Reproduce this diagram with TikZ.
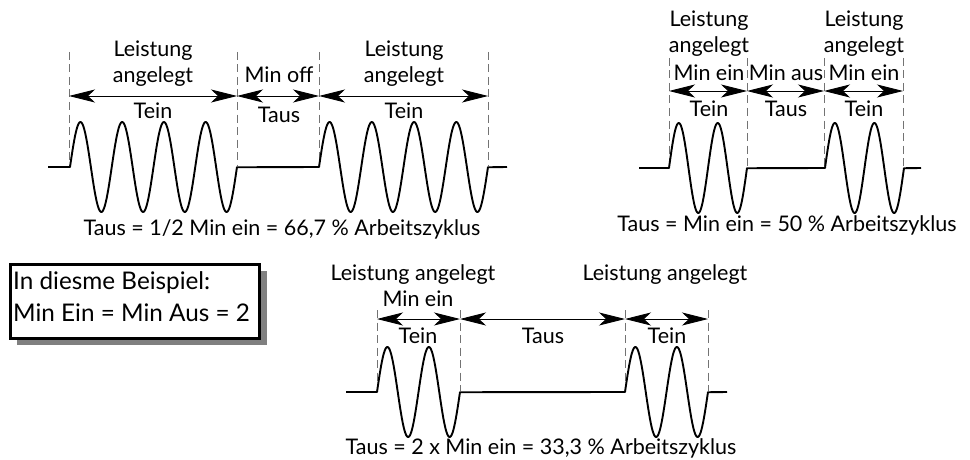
\documentclass[tikz,border=0pt]{standalone}
\usepackage{fontspec}
\setmainfont{Lato}
\usetikzlibrary{arrows.meta}
\begin{document}
\begin{tikzpicture}[x=1pt,y=-1pt,
  lbl/.style={font=\fontsize{21.5}{24}\selectfont, inner sep=0pt, anchor=base},
  boxtxt/.style={font=\fontsize{24.3}{26}\selectfont, inner sep=0pt, anchor=base west},
  dim/.style={{Stealth[length=26pt,width=13pt,inset=7pt]}-{Stealth[length=26pt,width=13pt,inset=7pt]}, line width=0.9pt},
  guide/.style={dash pattern=on 8pt off 4.5pt, draw=gray!90!black, line width=0.9pt},
  wave/.style={line width=1.9pt, line join=round}]
\useasboundingbox (0,0) rectangle (970,460);

% ---------------- Panel 1 ----------------
\foreach \n/\x in {a/69,b/237,c/319,d/488}{
  \coordinate (p1\n t) at (\x,52);
  \coordinate (p1\n b) at (\x,166);
  \coordinate (p1\n m) at (\x,96);
  \draw[guide] (p1\n t) -- (p1\n b);
}
\draw[wave] (48,167) -- (70,167)
  -- plot[domain=0:4,samples=200] ({70+41.75*\x},{167-45*sin(360*\x)})
  -- (319,167)
  -- plot[domain=0:4,samples=200] ({319+42.25*\x},{167-45*sin(360*\x)})
  -- (507,167);
\draw[dim] (p1am) -- (p1bm);
\draw[dim] (p1bm) -- (p1cm);
\draw[dim] (p1cm) -- (p1dm);
\node[lbl] (t1a) at (153,57) {Leistung};
\node[lbl] (t1b) at (153,82) {angelegt};
\node[lbl] (t1c) at (153,118) {Tein};
\node[lbl] (t1d) at (279,82) {Min off};
\node[lbl] (t1e) at (279,122) {Taus};
\node[lbl] (t1f) at (404,57) {Leistung};
\node[lbl] (t1g) at (404,82) {angelegt};
\node[lbl] (t1h) at (404,118) {Tein};
\node[lbl] (t1i) at (282,235) {Taus = 1/2 Min ein = 66,7 \% Arbeitszyklus};

% ---------------- Panel 2 ----------------
\foreach \n/\x in {a/669,b/747,c/824,d/903}{
  \coordinate (p2\n t) at (\x,58);
  \coordinate (p2\n b) at (\x,166);
  \coordinate (p2\n m) at (\x,91);
  \draw[guide] (p2\n t) -- (p2\n b);
}
\draw[wave] (639,168) -- (669,168)
  -- plot[domain=0:2,samples=120] ({669+39*\x},{168-45*sin(360*\x)})
  -- (825,168)
  -- plot[domain=0:2,samples=120] ({825+39.5*\x},{168-45*sin(360*\x)})
  -- (921,168);
\draw[dim] (p2am) -- (p2bm);
\draw[dim] (p2bm) -- (p2cm);
\draw[dim] (p2cm) -- (p2dm);
\node[lbl] (t2a) at (709,27) {Leistung};
\node[lbl] (t2b) at (709,53) {angelegt};
\node[lbl] (t2c) at (709,81) {Min ein};
\node[lbl] (t2d) at (709,117) {Tein};
\node[lbl] (t2e) at (786,81) {Min aus};
\node[lbl] (t2f) at (786,117) {Taus};
\node[lbl] (t2g) at (864,27) {Leistung};
\node[lbl] (t2h) at (864,53) {angelegt};
\node[lbl] (t2i) at (864,81) {Min ein};
\node[lbl] (t2j) at (864,117) {Tein};
\node[lbl] (t2k) at (787,231) {Taus = Min ein = 50 \% Arbeitszyklus};

% ---------------- Panel 3 ----------------
\foreach \n/\x in {a/377,b/460,c/625,d/708}{
  \coordinate (p3\n t) at (\x,310);
  \coordinate (p3\n b) at (\x,391);
  \coordinate (p3\n m) at (\x,319);
  \draw[guide] (p3\n t) -- (p3\n b);
}
\draw[wave] (346,392) -- (377,392)
  -- plot[domain=0:2,samples=120] ({377+41.5*\x},{392-45*sin(360*\x)})
  -- (625,392)
  -- plot[domain=0:2,samples=120] ({625+41.5*\x},{392-45*sin(360*\x)})
  -- (727,392);
\draw[dim] (p3am) -- (p3bm);
\draw[dim] (p3bm) -- (p3cm);
\draw[dim] (p3cm) -- (p3dm);
\node[lbl] (t3a) at (413,280) {Leistung angelegt};
\node[lbl] (t3b) at (418,306) {Min ein};
\node[lbl] (t3c) at (418,343) {Tein};
\node[lbl] (t3d) at (543,343) {Taus};
\node[lbl] (t3e) at (665,280) {Leistung angelegt};
\node[lbl] (t3f) at (667,343) {Tein};
\node[lbl] (t3g) at (541,454) {Taus = 2 x Min ein = 33,3 \% Arbeitszyklus};

% ---------------- Info box ----------------
\fill[gray!100!black] (17,271) rectangle (267,345);
\node[draw, fill=white, line width=2.8pt, minimum width=249pt, minimum height=74pt, anchor=north west, inner sep=0pt] (box) at (9,263) {};
\node[boxtxt] (bx1) at (13,289) {In diesme Beispiel:};
\node[boxtxt] (bx2) at (13,321) {Min Ein = Min Aus = 2};
\end{tikzpicture}
\end{document}
